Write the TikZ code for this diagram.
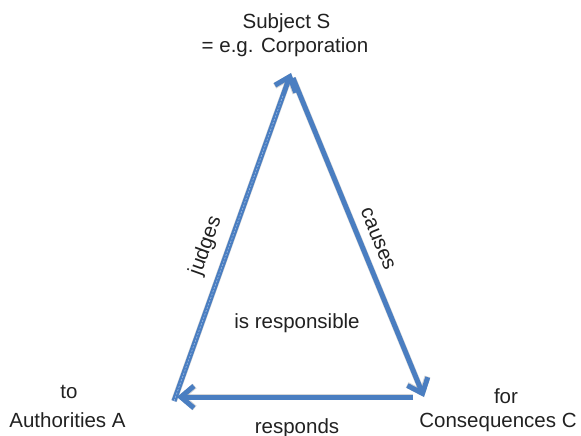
\documentclass[tikz,border=0pt]{standalone}
\usepackage{fontspec}
\setmainfont{Liberation Sans}
\usetikzlibrary{arrows.meta,calc}
\definecolor{edgeblue}{RGB}{74,126,193}
\definecolor{edgelight}{RGB}{140,175,222}
\tikzset{
  lbl/.style={font=\fontsize{20.5}{24}\selectfont, text=black!87, inner sep=0pt},
  edge/.style={draw=edgeblue, line width=5pt, -{Straight Barb[length=13pt,width=22pt,line width=5pt]}},
  shade/.style={draw=black, opacity=0.16, line width=6pt, -{Straight Barb[length=13pt,width=22pt,line width=6pt]}},
  inner/.style={draw=edgelight, line width=0.8pt, dash pattern=on 2pt off 1.5pt}
}
\begin{document}
\begin{tikzpicture}[x=1pt,y=-1pt]
\useasboundingbox (0,0) rectangle (581,436);
% vertices
\coordinate (top) at (291,73);
\coordinate (br) at (424,397);
\coordinate (bls) at (174,401);
\coordinate (tops) at (293,78);
\coordinate (brs) at (413,397);
\coordinate (blt) at (177,397);
% shadows
\begin{scope}[shift={(2,3)}]
\draw[shade] (bls) -- (top);
\draw[shade] (tops) -- (br);
\draw[shade] (brs) -- (blt);
\end{scope}
% edges
\draw[edge] (bls) -- (top) node[lbl, pos=0.45, above=10pt, sloped] (judges) {judges};
\draw[edge] (tops) -- (br) node[lbl, pos=0.525, above=9pt, sloped] (causes) {causes};
\draw[edge] (brs) -- (blt);
\draw[inner] (bls) -- ($(bls)!0.93!(top)$);
% labels
\node[lbl, anchor=base] (subj) at (286.5,29) {Subject S};
\node[lbl, anchor=base] (corp) at (285,53) {= e.g. Corporation};
\node[lbl, anchor=base] (to) at (69,398) {to};
\node[lbl, anchor=base] (auth) at (67.5,427) {Authorities A};
\node[lbl, anchor=base] (for) at (506,403) {for};
\node[lbl, anchor=base] (cons) at (498,427) {Consequences C};
\node[lbl, anchor=base] (resp) at (297,433) {responds};
\node[lbl, anchor=base] (isr) at (297,328) {is responsible};
\end{tikzpicture}
\end{document}
